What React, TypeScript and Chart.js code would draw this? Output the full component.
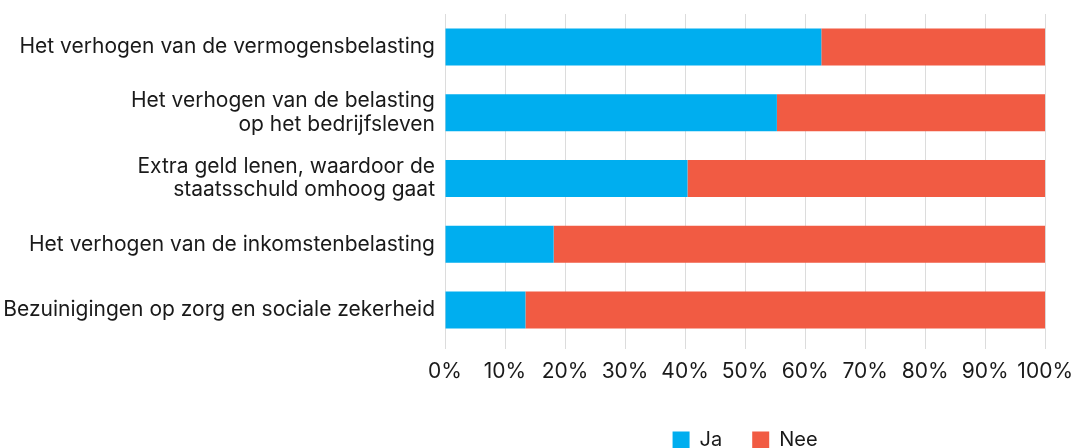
import React, { useEffect, useRef } from "react";
import { Chart, registerables } from "chart.js";

Chart.register(...registerables);

const categories: (string | string[])[] = [
  "Het verhogen van de vermogensbelasting",
  ["Het verhogen van de belasting", "op het bedrijfsleven"],
  ["Extra geld lenen, waardoor de", "staatsschuld omhoog gaat"],
  "Het verhogen van de inkomstenbelasting",
  "Bezuinigingen op zorg en sociale zekerheid",
];

const jaValues = [62.7, 55.3, 40.4, 18.1, 13.4];
const neeValues = [37.3, 44.7, 59.6, 81.9, 86.6];

const seriesLabels = ["Ja", "Nee"];
const xTicks = [0, 10, 20, 30, 40, 50, 60, 70, 80, 90, 100];

const FONT = "Inter, 'Noto Sans', sans-serif";

export default function App() {
  const canvasRef = useRef<HTMLCanvasElement | null>(null);

  useEffect(() => {
    document.body.style.margin = "0";
    document.body.style.overflow = "hidden";
    const ctx = canvasRef.current;
    if (!ctx) return;
    const chart = new Chart(ctx, {
      type: "bar",
      data: {
        labels: categories,
        datasets: [
          {
            label: seriesLabels[0],
            data: jaValues,
            backgroundColor: "#00AEEF",
            borderWidth: 0,
          },
          {
            label: seriesLabels[1],
            data: neeValues,
            backgroundColor: "#F15B43",
            borderWidth: 0,
          },
        ],
      },
      options: {
        indexAxis: "y",
        animation: false,
        responsive: false,
        maintainAspectRatio: false,
        layout: { padding: { top: 14, left: 0, right: 0, bottom: 0 } },
        datasets: {
          bar: { categoryPercentage: 1, barPercentage: 0.563 },
        },
        scales: {
          x: {
            stacked: true,
            min: 0,
            max: 100,
            afterBuildTicks: (scale: any) => {
              scale.ticks = xTicks.map((v) => ({ value: v }));
            },
            afterFit: (scale: any) => {
              scale.height = 57;
            },
            ticks: {
              callback: (v: any) => v + "%",
              color: "#1a1a1a",
              padding: 10,
              maxRotation: 0,
              font: { family: FONT, size: 21 },
            },
            grid: {
              color: "#dcdcdc",
              lineWidth: 1,
              tickLength: 6,
            },
            border: { display: false },
          },
          y: {
            stacked: true,
            afterFit: (scale: any) => {
              scale.width = 445;
              scale.paddingTop = 0;
              scale.paddingBottom = 0;
            },
            ticks: {
              color: "#1a1a1a",
              padding: 10,
              font: { family: FONT, size: 21, lineHeight: 1.1 },
            },
            grid: { display: false, drawTicks: false, tickLength: 0 },
            border: { display: false },
          },
        },
        plugins: {
          legend: {
            position: "bottom",
            fullSize: false,
            labels: {
              boxWidth: 17,
              boxHeight: 17,
              padding: 30,
              color: "#1a1a1a",
              font: { family: FONT, size: 20 },
            },
          },
          tooltip: { enabled: false },
        },
      },
    } as any);
    return () => chart.destroy();
  }, []);

  return (
    <div
      style={{
        position: "fixed",
        left: 0,
        top: 0,
        width: 1083,
        height: 448,
        overflow: "hidden",
        background: "#fff",
      }}
    >
      <canvas
        ref={canvasRef}
        width={1083}
        height={460}
        style={{ display: "block", width: 1083, height: 460 }}
      />
    </div>
  );
}
